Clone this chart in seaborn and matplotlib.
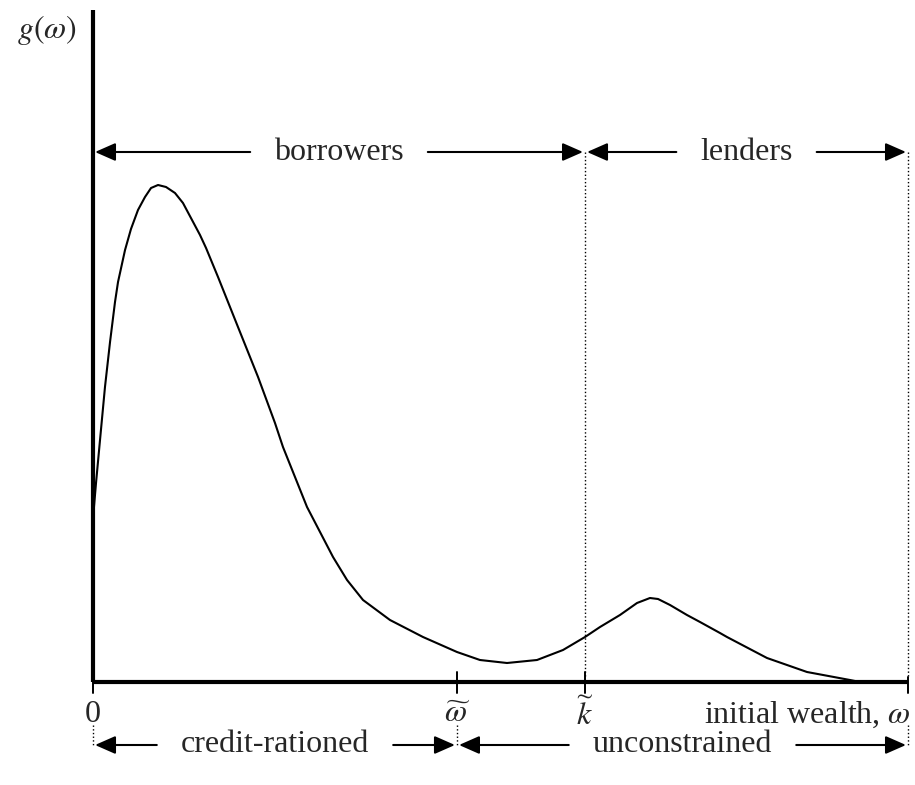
import matplotlib.pyplot as plt
import seaborn as sns
import pandas as pd

# density curve g(w) (wealth 0..10, height in arbitrary units)
wealth = [0.0, 0.012, 0.037, 0.086, 0.147, 0.209, 0.270, 0.307, 0.393, 0.466,
          0.552, 0.638, 0.712, 0.798, 0.896, 1.006, 1.104, 1.202, 1.313, 1.387,
          1.534, 1.779, 2.025, 2.233, 2.331, 2.626, 2.945, 3.117, 3.313, 3.644,
          4.049, 4.466, 4.748, 5.080, 5.448, 5.767, 6.037, 6.221, 6.466, 6.675,
          6.834, 6.933, 7.080, 7.288, 7.448, 7.693, 7.779, 8.270, 8.761, 9.288,
          9.411]
density = [1.72, 1.75, 1.99, 2.42, 2.95, 3.40, 3.80, 4.00, 4.32, 4.53,
           4.72, 4.85, 4.94, 4.97, 4.95, 4.89, 4.79, 4.64, 4.47, 4.34,
           4.05, 3.55, 3.05, 2.59, 2.35, 1.75, 1.25, 1.02, 0.82, 0.62,
           0.45, 0.30, 0.22, 0.19, 0.22, 0.32, 0.45, 0.55, 0.67, 0.79,
           0.84, 0.83, 0.77, 0.67, 0.60, 0.49, 0.45, 0.24, 0.10, 0.02,
           0.0]

tick_pos = [0.0, 4.466, 6.037, 10.0]
tick_labels = ['0', r'$\widetilde{\omega}$', r'$\widetilde{k}$', r'initial wealth, $\omega$']
top_spans = [(0.0, 6.037, 'borrowers'), (6.037, 10.0, 'lenders')]
bottom_spans = [(0.0, 4.466, 'credit-rationed'), (4.466, 10.0, 'unconstrained')]

sns.set_style('white')
plt.rcParams['font.family'] = ['Liberation Serif', 'DejaVu Serif']
plt.rcParams['mathtext.fontset'] = 'stix'

fig = plt.figure(figsize=(9.15, 7.85), dpi=100)
ax = fig.add_axes([0, 0, 1, 1])
ax.set_xlim(-93 / 81.5, 822 / 81.5)
ax.set_ylim(-1.03, 6.82)
ax.axis('off')

df = pd.DataFrame({'wealth': wealth, 'density': density})
sns.lineplot(data=df, x='wealth', y='density', color='black', lw=1.5, ax=ax)

# axes
ax.plot([0, 0], [0, 6.72], color='black', lw=3, solid_capstyle='butt')
ax.plot([0, 10], [0, 0], color='black', lw=3, solid_capstyle='butt')

fs = 23
top_y, bot_y, lab_y = 5.30, -0.63, -0.33

# ticks and labels
tick_tops = [0.0, 0.10, 0.10, 0.05]
for x, t, lab in zip(tick_pos, tick_tops, tick_labels):
    ax.plot([x, x], [t, -0.11], color='black', lw=1.4)
    ha = 'right' if x == tick_pos[-1] else 'center'
    ax.text(x + (0.03 if ha == 'right' else 0), lab_y, lab, fontsize=fs, ha=ha, va='center')

# dotted guides
ax.plot([6.037, 6.037], [top_y, 0.05], color='black', lw=1, ls=':')
ax.plot([10, 10], [top_y, 0.05], color='black', lw=1, ls=':')
for x in tick_pos[:2] + [10.0]:
    ax.plot([x, x], [-0.43, bot_y], color='black', lw=1, ls=':')

ax.text(-0.93, 6.52, r'$g(\omega)$', fontsize=fs, ha='left', va='center')

fig.canvas.draw()
rend = fig.canvas.get_renderer()
inv = ax.transData.inverted()
arrow = dict(arrowstyle='-|>,head_length=0.5,head_width=0.22', color='black',
             lw=1.5, mutation_scale=25, shrinkA=0, shrinkB=0)


def span(x0, x1, y, label):
    mid = (x0 + x1) / 2
    t = ax.text(mid, y, label, fontsize=fs, ha='center', va='center')
    bb = t.get_window_extent(rend)
    left = inv.transform((bb.x0 - 24, 0))[0]
    right = inv.transform((bb.x1 + 24, 0))[0]
    ax.annotate('', xy=(x0 + 0.025, y), xytext=(left, y), arrowprops=arrow)
    ax.annotate('', xy=(x1 - 0.025, y), xytext=(right, y), arrowprops=arrow)


for x0, x1, lab in top_spans:
    span(x0, x1, top_y, lab)
for x0, x1, lab in bottom_spans:
    span(x0, x1, bot_y, lab)

fig.savefig('out.png', dpi=100)
